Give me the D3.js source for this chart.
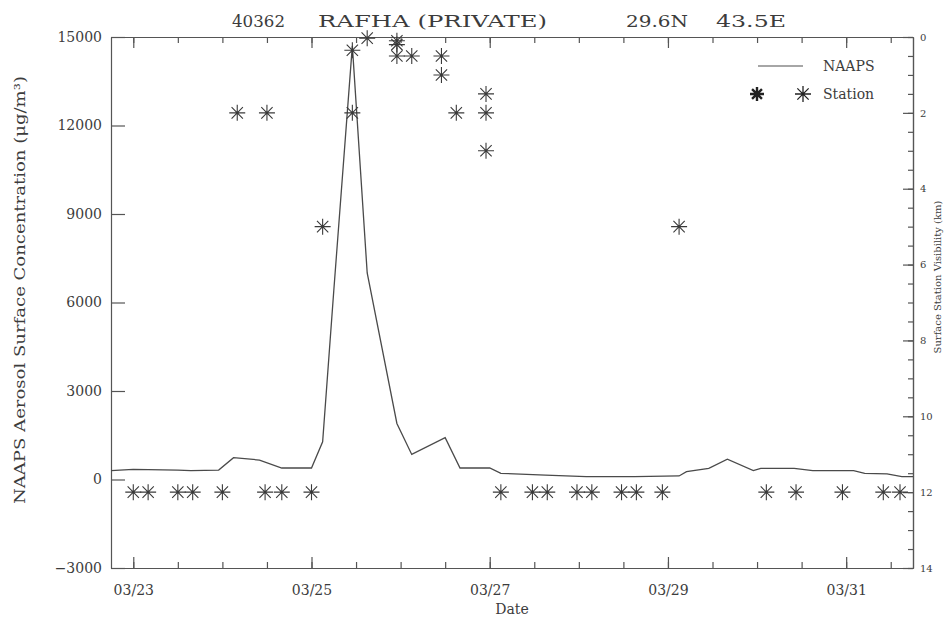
<!DOCTYPE html>
<html>
<head>
<meta charset="utf-8">
<script src="https://cdn.jsdelivr.net/npm/d3@7"></script>
<style>
    body { margin: 0; background: #fff; }
    svg text { font-family: "DejaVu Serif", serif; fill: #3c3c3c; }
    .axis path, .axis line { stroke: #555; stroke-width: 1.2; }
</style>
</head>
<body>
<svg id="chart" width="946" height="622"></svg>
<script>
// NAAPS model concentration (ug/m3), hours after 03/23 00Z
const naapsHours = [-6, 0, 12, 15.5, 23, 27, 34, 40, 48, 51, 54, 59, 63, 71, 75, 84, 88, 96, 99,
    111, 122, 135, 147, 149, 155, 160, 167, 169, 178, 183, 194, 197, 203, 207, 210];
const naapsConc = [300, 345, 320, 300, 320, 740, 660, 390, 390, 1280, 6400, 14700, 7000, 1900, 850, 1420, 390, 390, 210,
    150, 95, 95, 120, 265, 380, 690, 300, 380, 380, 300, 300, 210, 190, 95, 95];

// Station visibility (km), hours after 03/23 00Z
const stationHours = [0, 4, 12, 16, 24, 28, 35.5, 36, 40, 48, 51, 59, 59, 63, 71, 71, 71, 75, 83, 83, 87,
    95, 95, 95, 99, 107.5, 111.5, 119.5, 123.5, 131.5, 135.5, 142.5, 147, 170.5, 178.5, 191, 202, 206.5];
const stationVis = [12, 12, 12, 12, 12, 2, 12, 2, 12, 12, 5, 0.35, 2, 0.03, 0.1, 0.2, 0.5, 0.5, 0.5, 1, 2,
    1.5, 2, 3, 12, 12, 12, 12, 12, 12, 12, 12, 5, 12, 12, 12, 12, 12];

// Axis ticks
const dateTicks = ['2003-03-23', '2003-03-25', '2003-03-27', '2003-03-29', '2003-03-31'];
const concTicks = [-3000, 0, 3000, 6000, 9000, 12000, 15000];
const visTicks = [0, 2, 4, 6, 8, 10, 12, 14];

const titleParts = ['40362', 'RAFHA (PRIVATE)', '29.6N', '43.5E'];

const base = Date.UTC(2003, 2, 23);
const hour = h => new Date(base + h * 3600e3);

const svg = d3.select('#chart');
const margin = {left: 111, right: 913, top: 37, bottom: 568};

const x = d3.scaleUtc().domain([hour(-6), hour(210)]).range([margin.left, margin.right]);
const yConc = d3.scaleLinear().domain([-3000, 15000]).range([margin.bottom, margin.top]);
const yVis = d3.scaleLinear().domain([0, 14]).range([margin.top, margin.bottom]);

const fmt = d3.utcFormat('%m/%d');
const majorDates = dateTicks.map(d => new Date(d + 'T00:00:00Z'));
const minorDates = d3.utcHour.every(12).range(hour(-6), hour(211));

// bottom axis
svg.append('g').attr('class', 'axis')
    .attr('transform', `translate(0,${margin.bottom})`)
    .call(d3.axisBottom(x).tickValues(minorDates).tickSize(-6).tickSizeOuter(0).tickFormat(''));
svg.append('g').attr('class', 'axis')
    .attr('transform', `translate(0,${margin.bottom})`)
    .call(d3.axisBottom(x).tickValues(majorDates).tickSize(-11).tickSizeOuter(0).tickPadding(17).tickFormat(fmt))
    .call(g => g.selectAll('text').style('font-size', '14px').attr('fill', '#3c3c3c'));

// top axis
svg.append('g').attr('class', 'axis')
    .attr('transform', `translate(0,${margin.top})`)
    .call(d3.axisTop(x).tickValues(minorDates).tickSize(-6).tickSizeOuter(0).tickFormat(''));
svg.append('g').attr('class', 'axis')
    .attr('transform', `translate(0,${margin.top})`)
    .call(d3.axisTop(x).tickValues(majorDates).tickSize(-11).tickSizeOuter(0).tickFormat(''));

// left axis
svg.append('g').attr('class', 'axis')
    .attr('transform', `translate(${margin.left},0)`)
    .call(d3.axisLeft(yConc).tickValues(concTicks).tickSize(-14).tickSizeOuter(0).tickPadding(9).tickFormat(d3.format('d')))
    .call(g => g.selectAll('text').style('font-size', '14px').attr('fill', '#3c3c3c'));

// right axis
svg.append('g').attr('class', 'axis')
    .attr('transform', `translate(${margin.right},0)`)
    .call(d3.axisRight(yVis).tickValues(d3.range(0, 14.01, 0.5)).tickSize(-5).tickSizeOuter(0).tickFormat(''));
svg.append('g').attr('class', 'axis')
    .attr('transform', `translate(${margin.right},0)`)
    .call(d3.axisRight(yVis).tickValues(visTicks).tickSize(-10).tickSizeOuter(0).tickPadding(7))
    .call(g => g.selectAll('text').style('font-size', '10px').attr('fill', '#3c3c3c'));

// NAAPS line
const line = d3.line()
    .x((d, i) => x(hour(naapsHours[i])))
    .y(d => yConc(d));
svg.append('path')
    .datum(naapsConc)
    .attr('d', line)
    .attr('fill', 'none')
    .attr('stroke', '#4a4a4a')
    .attr('stroke-width', 1.3);

// asterisk symbol
function asterisk(r) {
    const a = r * Math.SQRT1_2;
    return `M0,${-r}V${r}M${-r},0H${r}M${-a},${-a}L${a},${a}M${-a},${a}L${a},${-a}`;
}

svg.append('g').selectAll('path')
    .data(stationVis)
    .enter().append('path')
    .attr('transform', (d, i) => `translate(${x(hour(stationHours[i]))},${yVis(d)})`)
    .attr('d', asterisk(8))
    .attr('fill', 'none')
    .attr('stroke', '#3a3a3a')
    .attr('stroke-width', 1.1);

// title
const titleX = [232, 318, 626, 716];
const titleW = [53, 229, 62, 70];
svg.append('g').selectAll('text')
    .data(titleParts)
    .enter().append('text')
    .attr('x', (d, i) => titleX[i])
    .attr('y', 27)
    .attr('textLength', (d, i) => titleW[i])
    .attr('lengthAdjust', 'spacingAndGlyphs')
    .style('font-size', '17px')
    .text(d => d);

// axis titles
svg.append('text')
    .attr('x', 512).attr('y', 614)
    .attr('text-anchor', 'middle')
    .style('font-size', '14px')
    .text('Date');

svg.append('text')
    .attr('transform', 'translate(25,290) rotate(-90)')
    .attr('text-anchor', 'middle')
    .attr('textLength', 428)
    .attr('lengthAdjust', 'spacingAndGlyphs')
    .style('font-size', '14px')
    .text('NAAPS Aerosol Surface Concentration (\u03bcg/m\u00b3)');

svg.append('text')
    .attr('transform', 'translate(941,277) rotate(-90)')
    .attr('text-anchor', 'middle')
    .style('font-size', '10px')
    .text('Surface Station Visibility (km)');

// legend
const legend = svg.append('g');
legend.append('line')
    .attr('x1', 758).attr('x2', 803).attr('y1', 66).attr('y2', 66)
    .attr('stroke', '#888').attr('stroke-width', 1.3);
legend.append('text').attr('x', 823).attr('y', 71).style('font-size', '14px').text('NAAPS');
legend.append('path')
    .attr('transform', 'translate(757,94)')
    .attr('d', asterisk(7))
    .attr('fill', 'none').attr('stroke', '#222').attr('stroke-width', 2.4);
legend.append('path')
    .attr('transform', 'translate(803,94)')
    .attr('d', asterisk(8))
    .attr('fill', 'none').attr('stroke', '#222').attr('stroke-width', 1.3);
legend.append('text').attr('x', 823).attr('y', 99).style('font-size', '14px').text('Station');
</script>
</body>
</html>
